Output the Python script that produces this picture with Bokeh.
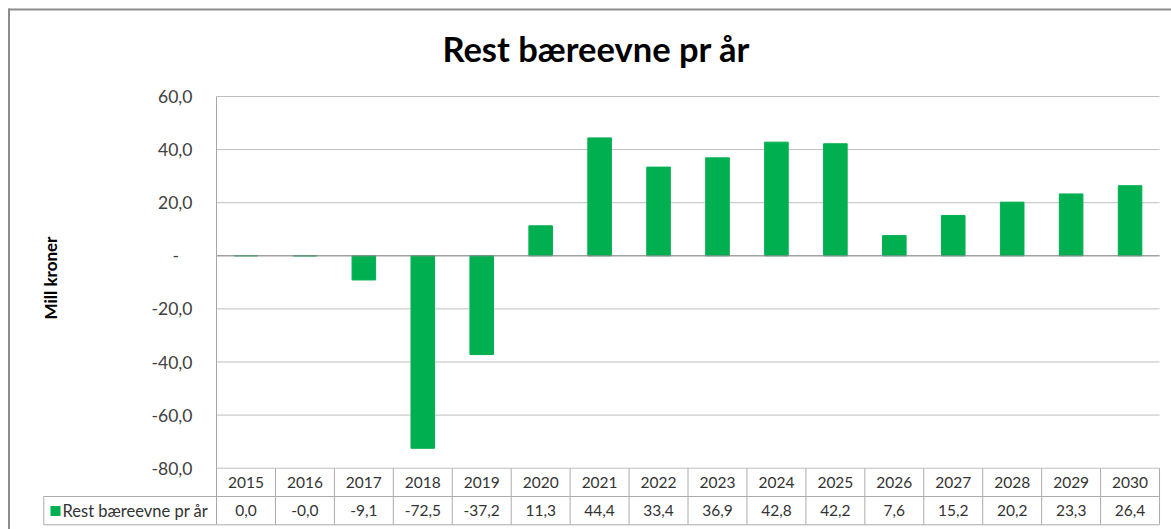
from math import pi
from bokeh.plotting import figure
from bokeh.models import Range1d, FixedTicker, LinearAxis
from bokeh.core.properties import value
from bokeh.embed import file_html
from bokeh.resources import INLINE

# ---- data ----
years = ["2015", "2016", "2017", "2018", "2019", "2020", "2021", "2022",
         "2023", "2024", "2025", "2026", "2027", "2028", "2029", "2030"]
rest_baereevne = [0.04, -0.02, -9.1, -72.5, -37.2, 11.3, 44.4, 33.4,
                  36.9, 42.8, 42.2, 7.6, 15.2, 20.2, 23.3, 26.4]
series_name = "Rest bæreevne pr år"
chart_title = "Rest bæreevne pr år"
y_title = "Mill kroner"
ytick_values = [-80, -60, -40, -20, 0, 20, 40, 60]
ytick_labels = ["-80,0", "-60,0", "-40,0", "-20,0", "-\u00a0\u00a0\u00a0", "20,0", "40,0", "60,0"]

# ---- geometry (page pixels -> data units) ----
W, H = 1171, 529
FONT = "Lato"
GREEN = "#00B050"
TXT = "#333333"
GRID = "#BFBFBF"
TABLE = "#ABABAB"
PLOT_LEFT = 216.0      # page x of category 0 edge
COL_W = 58.94          # px per category
Y_TOP_PAGE = 96.0      # page y of value 60
Y_SCALE = 2.655        # px per unit
N = len(years)


def xd(px):
    return (px - PLOT_LEFT) / COL_W


def yd(py):
    return ytick_values[-1] - (py - Y_TOP_PAGE) / Y_SCALE


p = figure(width=W, height=H, output_backend="svg", toolbar_location=None,
           x_range=Range1d(xd(0), xd(W)), y_range=Range1d(yd(H), yd(0)),
           min_border=0, min_border_left=0, min_border_right=0,
           min_border_top=0, min_border_bottom=0,
           title=None, x_axis_location=None, y_axis_location=None)
p.outline_line_color = None
p.background_fill_color = "white"
p.border_fill_color = "white"
p.grid.visible = False

y_top = ytick_values[0]       # table top = -80 grid line
y_mid = yd(496)
y_bot = yd(524.3)

# outer chart border (left and top)
p.segment(x0=[xd(8.5), xd(8)], y0=[yd(8), yd(9)], x1=[xd(8.5), xd(W)], y1=[yd(H), yd(9)],
          line_color="#8C8C8C", line_width=2)

# gridlines
p.segment(x0=[0] * len(ytick_values), y0=ytick_values,
          x1=[N] * len(ytick_values), y1=ytick_values,
          line_color=GRID, line_width=1)

# y axis, fixed at the left edge of the category area
ax = LinearAxis(fixed_location=0, bounds=(y_bot, ytick_values[-1]))
ax.ticker = FixedTicker(ticks=ytick_values)
ax.major_label_overrides = dict(zip(ytick_values, ytick_labels))
ax.major_tick_line_color = None
ax.minor_tick_line_color = None
ax.major_tick_out = 0
ax.major_tick_in = 0
ax.major_label_standoff = 24
ax.axis_line_color = "#A6A6A6"
ax.major_label_text_font = FONT
ax.major_label_text_font_size = "17.5px"
ax.major_label_text_color = "#404040"
p.add_layout(ax, "left")

# bars
xs = [i + 0.5 for i in range(N)]
p.vbar(x=xs, top=rest_baereevne, bottom=0, width=0.4,
       fill_color=GREEN, line_color=GREEN, line_width=1)

# zero line
p.segment(x0=[0], y0=[0], x1=[N], y1=[0], line_color="#8C8C8C", line_width=1)

# data table
p.segment(x0=[float(i) for i in range(1, N + 1)], y0=[y_top] * N,
          x1=[float(i) for i in range(1, N + 1)], y1=[y_bot] * N,
          line_color=TABLE, line_width=1)
p.segment(x0=[xd(43.3), xd(43.3)], y0=[y_mid, y_bot], x1=[N, N], y1=[y_mid, y_bot],
          line_color=TABLE, line_width=1)
p.segment(x0=[xd(43.3)], y0=[y_mid], x1=[xd(43.3)], y1=[y_bot],
          line_color=TABLE, line_width=1)

value_texts = [f"{v:.1f}".replace(".", ",") for v in rest_baereevne]
p.text(x=xs, y=[(y_top + y_mid) / 2] * N, text=years,
       text_font=value(FONT), text_font_size="15.5px", text_color=TXT,
       text_align="center", text_baseline="middle")
p.text(x=xs, y=[(y_mid + y_bot) / 2] * N, text=value_texts,
       text_font=value(FONT), text_font_size="15.5px", text_color=TXT,
       text_align="center", text_baseline="middle")

# legend key inside the table's first cell
p.quad(left=[xd(50)], right=[xd(60)], top=[yd(505.5)], bottom=[yd(515.5)],
       fill_color=GREEN, line_color=None)
p.text(x=[xd(62)], y=[(y_mid + y_bot) / 2], text=[series_name],
       text_font=value(FONT), text_font_size="16.5px", text_color=TXT,
       text_align="left", text_baseline="middle")

# title and y-axis title
p.text(x=[xd(595.8)], y=[yd(48)], text=[chart_title],
       text_font=value(FONT), text_font_style="bold", text_font_size="34.5px",
       text_color="black", text_align="center", text_baseline="middle")
p.text(x=[xd(50)], y=[yd(277.5)], text=[y_title], angle=pi / 2,
       text_font=value(FONT), text_font_style="bold", text_font_size="17px",
       text_color="black", text_align="center", text_baseline="middle")

open("out.html", "w").write(file_html(p, INLINE))
